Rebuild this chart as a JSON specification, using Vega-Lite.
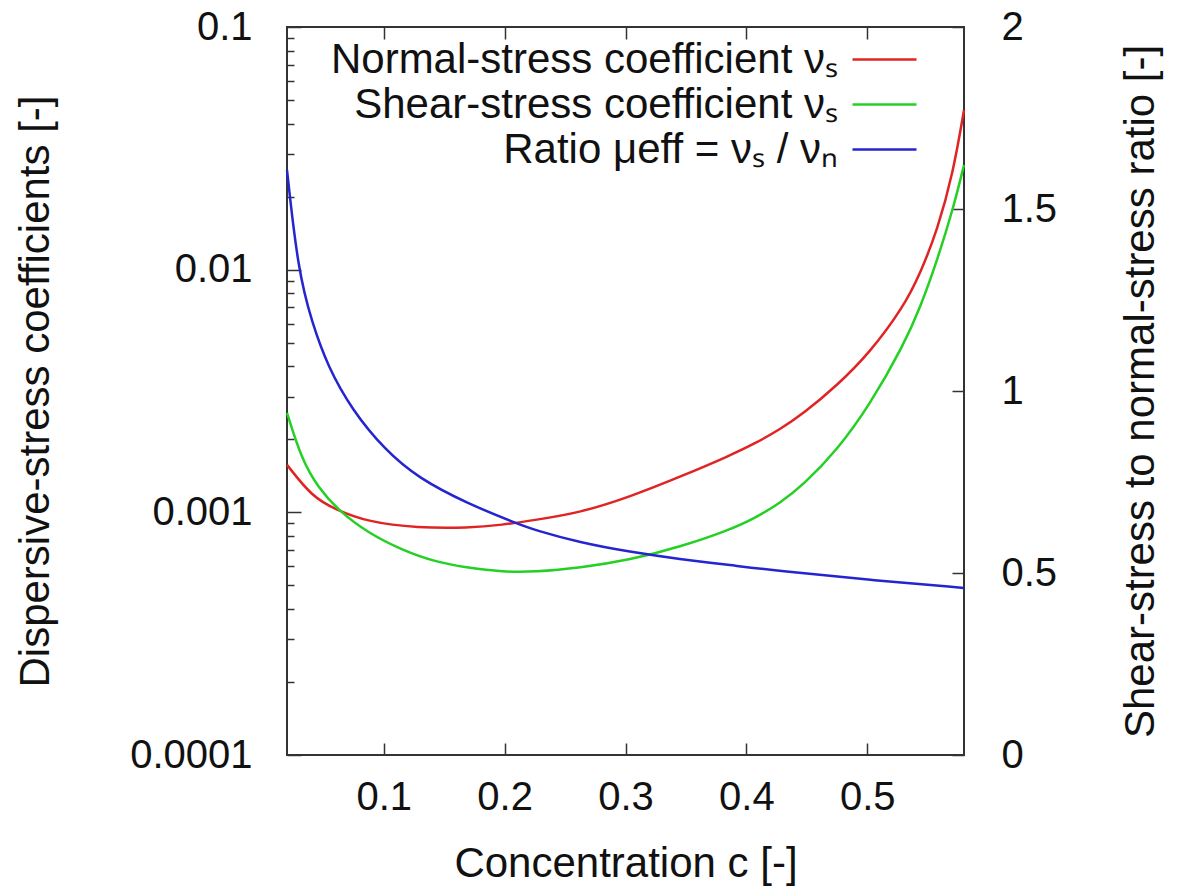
{
  "$schema": "https://vega.github.io/schema/vega-lite/v6.json",
  "width": 677,
  "height": 728,
  "autosize": {"type": "none"},
  "padding": {"left": 287, "top": 27, "right": 213, "bottom": 136},
  "background": "white",
  "config": {
    "font": "Liberation Sans",
    "view": {"stroke": "#333333", "strokeWidth": 2},
    "axis": {
      "labelFont": "Liberation Sans",
      "titleFont": "Liberation Sans",
      "labelFontSize": 40,
      "titleFontSize": 42,
      "titleFontWeight": "normal",
      "labelColor": "#111111",
      "titleColor": "#111111",
      "grid": false,
      "domain": false,
      "tickColor": "#333333",
      "tickWidth": 1.5
    }
  },
  "datasets": {
    "coef": [
      {"c": 0.02, "v": 0.00157, "series": "Normal-stress coefficient νₛ"},
      {"c": 0.0407, "v": 0.00116, "series": "Normal-stress coefficient νₛ"},
      {"c": 0.0597, "v": 0.00103, "series": "Normal-stress coefficient νₛ"},
      {"c": 0.087, "v": 0.000912, "series": "Normal-stress coefficient νₛ"},
      {"c": 0.128, "v": 0.000863, "series": "Normal-stress coefficient νₛ"},
      {"c": 0.17, "v": 0.000863, "series": "Normal-stress coefficient νₛ"},
      {"c": 0.198, "v": 0.000887, "series": "Normal-stress coefficient νₛ"},
      {"c": 0.225, "v": 0.00093, "series": "Normal-stress coefficient νₛ"},
      {"c": 0.262, "v": 0.000995, "series": "Normal-stress coefficient νₛ"},
      {"c": 0.304, "v": 0.00116, "series": "Normal-stress coefficient νₛ"},
      {"c": 0.345, "v": 0.0014, "series": "Normal-stress coefficient νₛ"},
      {"c": 0.386, "v": 0.00171, "series": "Normal-stress coefficient νₛ"},
      {"c": 0.407, "v": 0.00192, "series": "Normal-stress coefficient νₛ"},
      {"c": 0.428, "v": 0.0022, "series": "Normal-stress coefficient νₛ"},
      {"c": 0.447, "v": 0.00255, "series": "Normal-stress coefficient νₛ"},
      {"c": 0.475, "v": 0.00333, "series": "Normal-stress coefficient νₛ"},
      {"c": 0.502, "v": 0.00454, "series": "Normal-stress coefficient νₛ"},
      {"c": 0.53, "v": 0.00702, "series": "Normal-stress coefficient νₛ"},
      {"c": 0.544, "v": 0.00969, "series": "Normal-stress coefficient νₛ"},
      {"c": 0.558, "v": 0.0146, "series": "Normal-stress coefficient νₛ"},
      {"c": 0.571, "v": 0.025, "series": "Normal-stress coefficient νₛ"},
      {"c": 0.58, "v": 0.0455, "series": "Normal-stress coefficient νₛ"},
      {"c": 0.02, "v": 0.00257, "series": "Shear-stress coefficient νₛ"},
      {"c": 0.0324, "v": 0.00164, "series": "Shear-stress coefficient νₛ"},
      {"c": 0.0456, "v": 0.00127, "series": "Shear-stress coefficient νₛ"},
      {"c": 0.0622, "v": 0.00102, "series": "Shear-stress coefficient νₛ"},
      {"c": 0.087, "v": 0.000822, "series": "Shear-stress coefficient νₛ"},
      {"c": 0.115, "v": 0.0007, "series": "Shear-stress coefficient νₛ"},
      {"c": 0.1424, "v": 0.000625, "series": "Shear-stress coefficient νₛ"},
      {"c": 0.17, "v": 0.00059, "series": "Shear-stress coefficient νₛ"},
      {"c": 0.198, "v": 0.000568, "series": "Shear-stress coefficient νₛ"},
      {"c": 0.225, "v": 0.000568, "series": "Shear-stress coefficient νₛ"},
      {"c": 0.262, "v": 0.00059, "series": "Shear-stress coefficient νₛ"},
      {"c": 0.304, "v": 0.000637, "series": "Shear-stress coefficient νₛ"},
      {"c": 0.345, "v": 0.00072, "series": "Shear-stress coefficient νₛ"},
      {"c": 0.386, "v": 0.000846, "series": "Shear-stress coefficient νₛ"},
      {"c": 0.407, "v": 0.000946, "series": "Shear-stress coefficient νₛ"},
      {"c": 0.428, "v": 0.001094, "series": "Shear-stress coefficient νₛ"},
      {"c": 0.447, "v": 0.001297, "series": "Shear-stress coefficient νₛ"},
      {"c": 0.475, "v": 0.001803, "series": "Shear-stress coefficient νₛ"},
      {"c": 0.502, "v": 0.002767, "series": "Shear-stress coefficient νₛ"},
      {"c": 0.53, "v": 0.004875, "series": "Shear-stress coefficient νₛ"},
      {"c": 0.544, "v": 0.00702, "series": "Shear-stress coefficient νₛ"},
      {"c": 0.558, "v": 0.011, "series": "Shear-stress coefficient νₛ"},
      {"c": 0.571, "v": 0.0178, "series": "Shear-stress coefficient νₛ"},
      {"c": 0.58, "v": 0.027, "series": "Shear-stress coefficient νₛ"}
    ],
    "ratio": [
      {"c": 0.02, "r": 1.607},
      {"c": 0.0291, "r": 1.332},
      {"c": 0.0407, "r": 1.187},
      {"c": 0.0539, "r": 1.066},
      {"c": 0.0738, "r": 0.948},
      {"c": 0.101, "r": 0.838},
      {"c": 0.1284, "r": 0.761},
      {"c": 0.1697, "r": 0.69},
      {"c": 0.211, "r": 0.635},
      {"c": 0.225, "r": 0.618},
      {"c": 0.262, "r": 0.584},
      {"c": 0.3037, "r": 0.558},
      {"c": 0.345, "r": 0.538},
      {"c": 0.3864, "r": 0.522},
      {"c": 0.4278, "r": 0.505},
      {"c": 0.502, "r": 0.481},
      {"c": 0.58, "r": 0.459}
    ]
  },
  "layer": [
    {
      "data": {"name": "coef"},
      "mark": {"type": "line", "strokeWidth": 2.5, "interpolate": "basis"},
      "encoding": {
        "x": {
          "field": "c", "type": "quantitative",
          "scale": {"domain": [0.02, 0.58], "nice": false, "zero": false},
          "axis": {
            "values": [0.1, 0.2, 0.3, 0.4, 0.5], "format": ".1f",
            "title": "Concentration c [-]",
            "tickSize": -12, "labelPadding": 34, "titlePadding": 26
          }
        },
        "y": {
          "field": "v", "type": "quantitative",
          "scale": {"type": "log", "domain": [0.0001, 0.1], "nice": false},
          "axis": {
            "values": [0.0001, 0.0002, 0.0003, 0.0004, 0.0005, 0.0006, 0.0007, 0.0008, 0.0009, 0.001, 0.002, 0.003, 0.004, 0.005, 0.006, 0.007, 0.008, 0.009, 0.01, 0.02, 0.03, 0.04, 0.05, 0.06, 0.07, 0.08, 0.09, 0.1],
            "labelExpr": "indexof([0.0001, 0.001, 0.01, 0.1], datum.value) >= 0 ? format(datum.value, '.4~f') : ''",
            "tickSize": {"condition": {"test": "indexof([0.0001, 0.001, 0.01, 0.1], datum.value) >= 0", "value": -14}, "value": -7},
            "labelPadding": 49,
            "title": "Dispersive-stress coefficients [-]",
            "titlePadding": 72
          }
        },
        "color": {
          "field": "series", "type": "nominal",
          "scale": {
            "domain": ["Normal-stress coefficient νₛ", "Shear-stress coefficient νₛ", "Ratio μeff = νₛ / νₙ"],
            "range": ["#e02424", "#24d024", "#2424d0"]
          },
          "legend": {
            "orient": "none", "legendX": 576, "legendY": 11,
            "title": null, "symbolType": "M-1.6,0H1.6", "symbolSize": 1600,
            "symbolStrokeWidth": 2.5, "labelFontSize": 42,
            "labelFont": "Liberation Sans", "labelColor": "#111111",
            "labelAlign": "right", "labelOffset": -68, "rowPadding": 2,
            "padding": 0, "labelLimit": 2000
          }
        }
      }
    },
    {
      "data": {"name": "ratio"},
      "mark": {"type": "line", "strokeWidth": 2.5, "interpolate": "basis"},
      "encoding": {
        "x": {
          "field": "c", "type": "quantitative",
          "axis": {"orient": "top", "values": [0.1, 0.2, 0.3, 0.4, 0.5], "labels": false, "title": null, "ticks": true, "tickSize": -12, "tickColor": "#333333", "tickWidth": 1.5}
        },
        "y": {
          "field": "r", "type": "quantitative",
          "scale": {"domain": [0, 2], "nice": false, "zero": false},
          "axis": {
            "orient": "right", "values": [0, 0.5, 1, 1.5, 2], "format": "~g", "tickSize": -12,
            "labelPadding": 49,
            "title": "Shear-stress to normal-stress ratio [-]",
            "titleAngle": -90, "titleBaseline": "top", "titlePadding": 64
          }
        },
        "color": {"datum": "Ratio μeff = νₛ / νₙ", "type": "nominal"}
      }
    }
  ],
  "resolve": {"scale": {"y": "independent"}, "axis": {"x": "independent"}}
}
